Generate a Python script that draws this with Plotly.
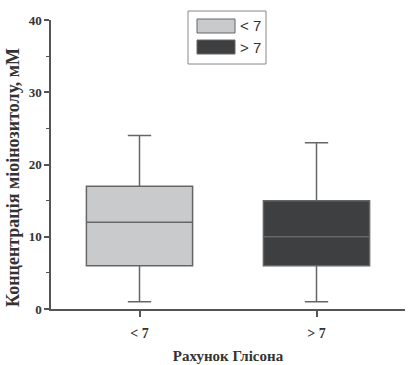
import plotly.graph_objects as go

categories = ["< 7", "> 7"]
q1 = [6, 6]
medians = [12, 10]
q3 = [17, 15]
lower = [1, 1]
upper = [24, 23]
fills = ["#c9cacc", "#3e3f41"]
y_ticks = [0, 10, 20, 30, 40]

fig = go.Figure()
for i, cat in enumerate(categories):
    fig.add_trace(go.Box(
        x=[cat], q1=[q1[i]], median=[medians[i]], q3=[q3[i]],
        lowerfence=[lower[i]], upperfence=[upper[i]],
        fillcolor=fills[i], line=dict(color="#666666", width=1.5),
        width=0.6, whiskerwidth=0.22, name=cat, showlegend=False,
        boxpoints=False,
    ))

serif = dict(family="Liberation Serif", color="#333333", weight="bold")

fig.update_layout(
    width=409, height=365, margin=dict(l=51, r=4, t=20, b=56),
    plot_bgcolor="white", paper_bgcolor="white",
    showlegend=False,
    xaxis=dict(
        range=[-0.5, 1.5], showline=True, linecolor="#555555", linewidth=1.5,
        ticks="outside", ticklen=6, tickcolor="#555555", tickwidth=1.5,
        ticklabelstandoff=4,
        tickfont=dict(**serif, size=14), showgrid=False, zeroline=False,
        title=dict(text="Рахунок Глісона", font=dict(**serif, size=15), standoff=11),
    ),
    yaxis=dict(
        range=[0, 40], tickvals=y_ticks, showline=True, linecolor="#555555", linewidth=1.5,
        ticks="outside", ticklen=5, tickcolor="#555555", tickwidth=1.5,
        minor=dict(dtick=5, ticks="outside", ticklen=3, tickcolor="#555555", tickwidth=1.2),
        tickfont=dict(**serif, size=13), showgrid=False, zeroline=False,
    ),
)

# pixel-based paper coordinates for the title and legend
W, H = 409 - 55, 365 - 76
def px(x):
    return (x - 51) / W
def py(y):
    return 1 - (y - 20) / H

fig.add_annotation(xref="paper", yref="paper", x=px(13), y=py(178),
                   text="Концентрація міоінозитолу, мМ", textangle=-90,
                   showarrow=False, xanchor="center", yanchor="middle",
                   font=dict(**serif, size=18))

fig.add_shape(type="rect", xref="paper", yref="paper",
              x0=px(188), x1=px(266), y0=py(11), y1=py(64),
              line=dict(color="#888888", width=1), fillcolor="white")
for i, cat in enumerate(categories):
    y0 = 19 + i * 21
    fig.add_shape(type="rect", xref="paper", yref="paper",
                  x0=px(197), x1=px(235), y0=py(y0), y1=py(y0 + 14),
                  line=dict(color="#666666", width=1), fillcolor=fills[i])
    fig.add_annotation(xref="paper", yref="paper", x=px(238), y=py(y0 + 7),
                       text=cat, showarrow=False, xanchor="left", yanchor="middle",
                       font=dict(family="Liberation Sans", size=15, color="#333333"))

fig.write_html("out.html")
